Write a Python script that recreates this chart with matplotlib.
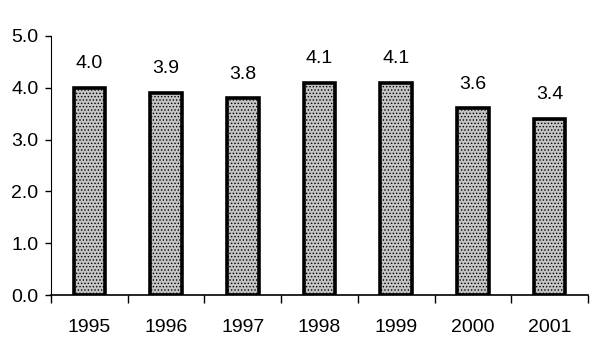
import numpy as np
import matplotlib
matplotlib.use('Agg')
import matplotlib.pyplot as plt
from matplotlib.ticker import FixedLocator

years = ['1995', '1996', '1997', '1998', '1999', '2000', '2001']
values = [4.0, 3.9, 3.8, 4.1, 4.1, 3.6, 3.4]
yticks = [0.0, 1.0, 2.0, 3.0, 4.0, 5.0]

plt.rcParams['font.family'] = ['Liberation Sans', 'DejaVu Sans']
plt.rcParams['hatch.color'] = '#6a6a6a'
plt.rcParams['hatch.linewidth'] = 0.6

fig = plt.figure(figsize=(6, 3.55), dpi=100)
ax = fig.add_axes([0.085, 0.169, 0.895, 0.730])

x = np.arange(len(years))
bars = ax.bar(x, values, width=0.41, color='#c4c4c4', edgecolor='black',
              linewidth=2.6, hatch='.....', zorder=3)

for xi, v in zip(x, values):
    ax.text(xi, v + 0.3, '%.1f' % v, ha='center', va='bottom', fontsize=14)

ax.set_xlim(-0.5, len(years) - 0.5)
ax.set_ylim(0, 5)
ax.set_yticks(yticks)
ax.set_yticklabels(['%.1f' % t for t in yticks], fontsize=14)
ax.set_xticks(x)
ax.set_xticklabels(years, fontsize=14)
ax.tick_params(axis='x', which='major', length=0, pad=17)
ax.xaxis.set_minor_locator(FixedLocator(np.arange(-0.5, len(years), 1.0)))
ax.tick_params(axis='x', which='minor', length=6, width=1, direction='out')
ax.tick_params(axis='y', length=4, width=1, direction='out', pad=5)

ax.spines['top'].set_visible(False)
ax.spines['right'].set_visible(False)
ax.spines['left'].set_linewidth(0.8)
ax.spines['bottom'].set_linewidth(1.2)

fig.savefig('out.png', dpi=100)
